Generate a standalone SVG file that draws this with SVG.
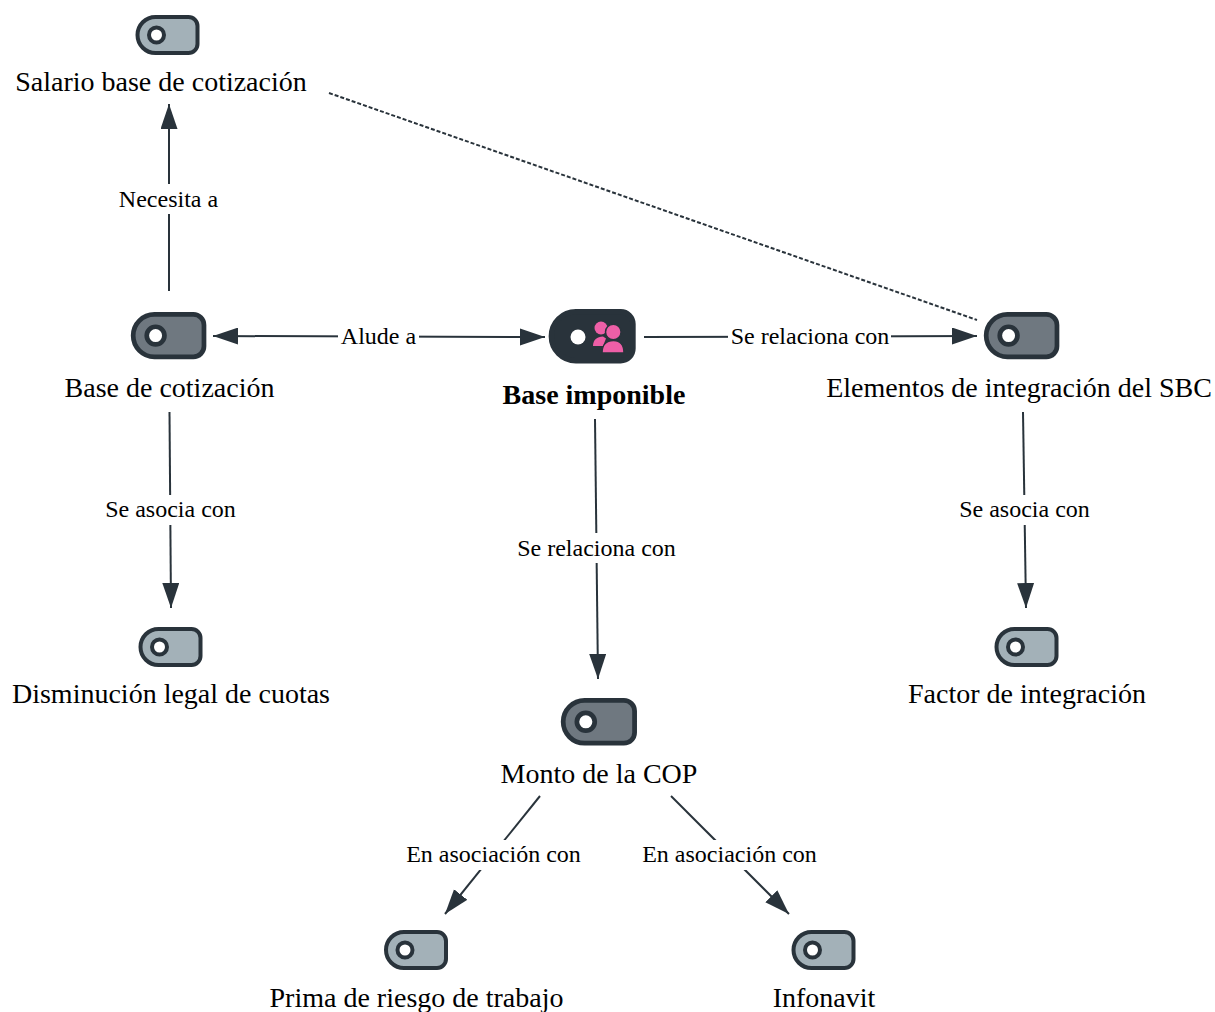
<svg xmlns="http://www.w3.org/2000/svg" width="1215" height="1012" viewBox="0 0 1215 1012">
<style>
text{font-family:"Liberation Serif","Times New Roman",serif;fill:#000;text-anchor:middle}
.n{font-size:28px}
.l{font-size:24px}
.b{font-size:28px;font-weight:bold}
.c{fill:none;stroke:#29333b;stroke-width:2}
.d{fill:none;stroke:#29333b;stroke-width:2;stroke-dasharray:4 2}
.a{marker-end:url(#arr)}
.s{marker-start:url(#arrs)}
.t{stroke:#29333b;stroke-width:4}
.lt{fill:#a3b1b8}
.md{fill:#6f7880}
.dk{fill:#29333b}
.bg{fill:#fff}
.p{fill:#ee5fa7}
.f{fill:#ee5fa7;stroke:#29333b;stroke-width:1.500}
</style>
<defs>
<marker id="arr" markerUnits="userSpaceOnUse" markerWidth="26" markerHeight="18" refX="25" refY="8.5" orient="auto"><path d="M0 0L25 8.5L0 17Z" fill="#29333b"/></marker>
<marker id="arrs" markerUnits="userSpaceOnUse" markerWidth="26" markerHeight="18" refX="0" refY="8.5" orient="auto"><path d="M25 0L0 8.5L25 17Z" fill="#29333b"/></marker>
<path id="tag" d="M19 2H52a9 9 0 0 1 9 9V29a9 9 0 0 1-9 9H19a18 18 0 0 1 0-36Z"/>
<g id="dot"><circle cx="20" cy="20" r="7.5" fill="#fff" stroke="#29333b" stroke-width="4"/></g>
</defs>
<g id="connectors">
<path class="c a" d="M169 291V104"/>
<path class="c a s" d="M213 336L545 337"/>
<path class="c a" d="M644 337L977 336"/>
<path class="d" d="M329 93L977 320"/>
<path class="c a" d="M169.500 412L171 608"/>
<path class="c a" d="M1023 412L1026 608"/>
<path class="c a" d="M595 419L598 679"/>
<path class="c a" d="M540 796L445 914"/>
<path class="c a" d="M671 796L789 914"/>
<g id="labels">
<rect class="bg" x="115" y="184" width="107" height="30"/><text class="l" x="168.500" y="207">Necesita a</text>
<rect class="bg" x="338" y="322" width="81" height="30"/><text class="l" x="378.500" y="344">Alude a</text>
<rect class="bg" x="728" y="322" width="163" height="30"/><text class="l" x="810" y="344">Se relaciona con</text>
<rect class="bg" x="102" y="495" width="137" height="30"/><text class="l" x="170.500" y="517">Se asocia con</text>
<rect class="bg" x="956" y="495" width="137" height="30"/><text class="l" x="1024.500" y="517">Se asocia con</text>
<rect class="bg" x="514" y="533" width="165" height="30"/><text class="l" x="596.500" y="556">Se relaciona con</text>
<rect class="bg" x="403" y="840" width="181" height="30"/><text class="l" x="493.500" y="862">En asociación con</text>
<rect class="bg" x="639" y="840" width="181" height="30"/><text class="l" x="729.500" y="862">En asociación con</text>
</g>
</g>
<g id="node-salario"><g transform="translate(136.500 15)"><use href="#tag" class="t lt"/><use href="#dot"/></g><text class="n" x="161" y="91">Salario base de cotización</text></g>
<g id="node-base-cotizacion"><g transform="translate(132 312) scale(1.18)"><use href="#tag" class="t md"/><use href="#dot"/></g><text class="n" x="169.500" y="397">Base de cotización</text></g>
<g id="node-base-imponible"><g transform="translate(550 309) scale(1.36 1.36)"><use href="#tag" class="t dk"/></g><circle cx="578" cy="337" r="7.500" fill="#fff"/>
<circle class="p" cx="601" cy="328" r="6.500"/>
<path class="p" d="M593 346c0-6 4-9.500 10-9.500l3 2l-3 7.500Z"/>
<circle class="f" cx="613.300" cy="332" r="7.800"/>
<path class="f" d="M602 353c0-8 4.500-12.500 11.500-12.500s10.500 4.500 10.500 12.500Z"/>
<text class="b" x="594" y="404">Base imponible</text></g>
<g id="node-elementos"><g transform="translate(985 312) scale(1.18)"><use href="#tag" class="t md"/><use href="#dot"/></g><text class="n" x="1019" y="397">Elementos de integración del SBC</text></g>
<g id="node-disminucion"><g transform="translate(139.500 627)"><use href="#tag" class="t lt"/><use href="#dot"/></g><text class="n" x="171" y="703">Disminución legal de cuotas</text></g>
<g id="node-factor"><g transform="translate(995.500 627)"><use href="#tag" class="t lt"/><use href="#dot"/></g><text class="n" x="1027" y="703">Factor de integración</text></g>
<g id="node-monto"><g transform="translate(562 698) scale(1.19)"><use href="#tag" class="t md"/><use href="#dot"/></g><text class="n" x="599" y="783">Monto de la COP</text></g>
<g id="node-prima"><g transform="translate(385 930)"><use href="#tag" class="t lt"/><use href="#dot"/></g><text class="n" x="416.500" y="1007">Prima de riesgo de trabajo</text></g>
<g id="node-infonavit"><g transform="translate(792.500 930)"><use href="#tag" class="t lt"/><use href="#dot"/></g><text class="n" x="824" y="1007">Infonavit</text></g>
</svg>
